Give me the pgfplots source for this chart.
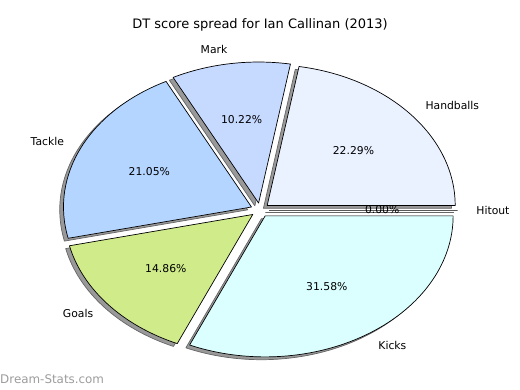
\documentclass[border=0pt]{standalone}
\usepackage{pgfplots}
\usepackage{pgfplotstable}
\pgfplotsset{compat=1.18}
\usepackage{fontspec}
\setmainfont{DejaVu Sans}
\definecolor{cHand}{HTML}{EAF1FF}
\definecolor{cMark}{HTML}{C6D9FF}
\definecolor{cTackle}{HTML}{B4D5FF}
\definecolor{cGoals}{HTML}{D0EB8A}
\definecolor{cKicks}{HTML}{DBFFFF}
\definecolor{cHit}{HTML}{FFFFFF}
\definecolor{wm}{HTML}{9C9C9C}

\pgfplotstableread{
label pct col
Handballs 22.29 cHand
Mark 10.22 cMark
Tackle 21.05 cTackle
Goals 14.86 cGoals
Kicks 31.58 cKicks
Hitout 0.00 cHit
}\piedata

\begin{document}
\begin{tikzpicture}[x=1pt,y=1pt]
\useasboundingbox (0,0) rectangle (520,390);
\pgfplotstablegetrowsof{\piedata}%
\pgfmathtruncatemacro\lastrow{\pgfplotsretval-1}%
\gdef\cum{0}%
\pgfplotsforeachungrouped \i in {0,...,\lastrow}{%
  \pgfplotstablegetelem{\i}{pct}\of\piedata \let\p\pgfplotsretval
  \pgfmathsetmacro\sa{\cum*3.6}%
  \pgfmathsetmacro\ea{(\cum+\p)*3.6}%
  \pgfmathsetmacro\ma{(\cum+\p/2)*3.6}%
  \pgfmathsetmacro\ox{0.05*cos(\ma)}%
  \pgfmathsetmacro\oy{0.05*sin(\ma)}%
  \pgfmathsetmacro\tx{0.65*cos(\ma)}%
  \pgfmathsetmacro\ty{0.65*sin(\ma)}%
  \pgfmathsetmacro\lx{1.15*cos(\ma)}%
  \pgfmathsetmacro\ly{1.15*sin(\ma)}%
  \pgfmathparse{cos(\ma)>=0 ? 1 : 0}%
  \ifnum\pgfmathresult=1 \def\anc{west}\else\def\anc{east}\fi
  \expandafter\xdef\csname sa\i\endcsname{\sa}%
  \expandafter\xdef\csname ea\i\endcsname{\ea}%
  \expandafter\xdef\csname ox\i\endcsname{\ox}%
  \expandafter\xdef\csname oy\i\endcsname{\oy}%
  \expandafter\xdef\csname tx\i\endcsname{\tx}%
  \expandafter\xdef\csname ty\i\endcsname{\ty}%
  \expandafter\xdef\csname lx\i\endcsname{\lx}%
  \expandafter\xdef\csname ly\i\endcsname{\ly}%
  \expandafter\xdef\csname an\i\endcsname{\anc}%
  \expandafter\xdef\csname pv\i\endcsname{\p}%
  \pgfplotstablegetelem{\i}{label}\of\piedata
  \expandafter\xdef\csname lb\i\endcsname{\pgfplotsretval}%
  \pgfplotstablegetelem{\i}{col}\of\piedata
  \expandafter\xdef\csname cl\i\endcsname{\pgfplotsretval}%
  \pgfmathsetmacro\newcum{\cum+\p}%
  \xdef\cum{\newcum}%
}%
\begin{axis}[
  at={(0,0)}, anchor=south west,
  hide axis, scale only axis, clip=false,
  width=520pt, height=390pt,
  xmin=-1.382979, xmax=1.382979,
  ymin=-1.276596, ymax=1.489362,
  /pgf/number format/assume math mode=true,
]
% shadows
\pgfplotsinvokeforeach{0,...,5}{
  \filldraw[fill=black!40, draw=black!60, line width=0.7pt, line join=round]
    ([xshift=-3.76pt,yshift=-2.82pt]axis cs:\csname ox#1\endcsname,\csname oy#1\endcsname)
    -- ++(\csname sa#1\endcsname:188pt and 141pt)
    arc[start angle=\csname sa#1\endcsname, end angle=\csname ea#1\endcsname, x radius=188pt, y radius=141pt]
    -- cycle;
}
% wedges
\pgfplotsinvokeforeach{0,...,5}{
  \filldraw[fill=\csname cl#1\endcsname, draw=black, line width=0.7pt, line join=round]
    (axis cs:\csname ox#1\endcsname,\csname oy#1\endcsname)
    -- ++(\csname sa#1\endcsname:188pt and 141pt)
    arc[start angle=\csname sa#1\endcsname, end angle=\csname ea#1\endcsname, x radius=188pt, y radius=141pt]
    -- cycle;
}
% texts
\pgfplotsinvokeforeach{0,...,5}{
  \node[font=\fontsize{10.8}{12}\selectfont, inner sep=0pt]
    at (axis cs:\csname tx#1\endcsname,\csname ty#1\endcsname)
    {\pgfmathprintnumber[fixed, fixed zerofill, precision=2, assume math mode=true]{\csname pv#1\endcsname}\%};
  \node[font=\fontsize{10.8}{12}\selectfont, inner sep=0pt, anchor=\csname an#1\endcsname]
    at (axis cs:\csname lx#1\endcsname,\csname ly#1\endcsname)
    {\csname lb#1\endcsname};
}
\end{axis}
\node[font=\fontsize{13}{15}\selectfont] at (260,365) {DT score spread for Ian Callinan (2013)};
\node[font=\fontsize{11.9}{13}\selectfont, text=wm, anchor=west, inner sep=0pt] at (0,10.5) {Dream-Stats.com};
\end{tikzpicture}
\end{document}
